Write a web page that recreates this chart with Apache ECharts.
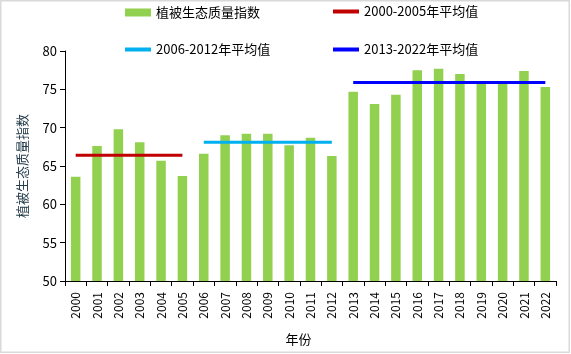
<!DOCTYPE html>
<html>
<head>
<meta charset="utf-8">
<script src="https://cdn.jsdelivr.net/npm/echarts@6/dist/echarts.min.js"></script>
<style>
  html, body { margin: 0; padding: 0; background: #fff; }
  #main { width: 571px; height: 354px; }
</style>
</head>
<body>
<div id="main"></div>
<script>
// data
var years = ['2000', '2001', '2002', '2003', '2004', '2005', '2006', '2007', '2008', '2009', '2010', '2011',
  '2012', '2013', '2014', '2015', '2016', '2017', '2018', '2019', '2020', '2021', '2022'];
var vegIndex = [63.6, 67.6, 69.8, 68.1, 65.7, 63.7, 66.6, 69.0, 69.2, 69.2, 67.7, 68.7,
  66.3, 74.7, 73.1, 74.3, 77.5, 77.7, 77.0, 76.0, 76.1, 77.4, 75.3];
var avg2000 = [66.4, 66.4, 66.4, 66.4, 66.4, 66.4];          // 2000-2005
var avg2006 = [68.1, 68.1, 68.1, 68.1, 68.1, 68.1, 68.1];    // 2006-2012
var avg2013 = [75.9, 75.9, 75.9, 75.9, 75.9, 75.9, 75.9, 75.9, 75.9, 75.9]; // 2013-2022
var yTicks = [50, 55, 60, 65, 70, 75, 80];

var font = '"Noto Sans CJK SC", "Noto Sans", sans-serif';

// put a segment onto the full category axis
function place(vals, start) {
  var out = [];
  for (var i = 0; i < years.length; i++) {
    var j = i - start;
    out.push(j >= 0 && j < vals.length ? vals[j] : null);
  }
  return out;
}

var names = ['植被生态质量指数', '2000-2005年平均值', '2006-2012年平均值', '2013-2022年平均值'];

function legendAt(name, left, top, isBar) {
  return {
    data: [name],
    left: left,
    top: top,
    itemWidth: 26,
    itemHeight: isBar ? 8 : 4,
    itemGap: 0,
    textStyle: { fontFamily: font, fontSize: 13, color: '#000' },
    icon: 'rect',
    selectedMode: false
  };
}

var myChart = echarts.init(document.getElementById('main'));

var option = {
  backgroundColor: '#fff',
  animation: false,
  graphic: [{
    type: 'rect',
    shape: { x: 0.75, y: 0.75, width: 568.5, height: 351.5 },
    style: { fill: 'none', stroke: '#d9d9d9', lineWidth: 1.5 },
    silent: true
  }],
  legend: [
    legendAt(names[0], 120, 1, true),
    legendAt(names[1], 328, 0, false),
    legendAt(names[2], 120, 38, false),
    legendAt(names[3], 328, 38, false)
  ],
  grid: { left: 65, right: 15, top: 51, bottom: 73 },
  xAxis: {
    type: 'category',
    data: years,
    name: '年份',
    nameLocation: 'middle',
    nameGap: 52,
    nameTextStyle: { fontFamily: font, fontSize: 13, color: '#000', padding: [0, 24, 0, 0] },
    axisLine: { lineStyle: { color: '#000', width: 1 } },
    axisTick: { show: true, length: 5, lineStyle: { color: '#000' } },
    axisLabel: { rotate: 90, fontFamily: font, fontSize: 12, color: '#000', margin: 11 }
  },
  yAxis: {
    type: 'value',
    min: yTicks[0],
    max: yTicks[yTicks.length - 1],
    interval: 5,
    name: '植被生态质量指数',
    nameLocation: 'middle',
    nameGap: 36,
    nameTextStyle: { fontFamily: font, fontSize: 13, color: '#243b4a' },
    axisLine: { show: true, lineStyle: { color: '#000', width: 1 } },
    axisTick: { show: true, length: 5, lineStyle: { color: '#000' } },
    axisLabel: { fontFamily: font, fontSize: 13, color: '#000', margin: 8 },
    splitLine: { show: false }
  },
  series: [
    {
      name: names[0],
      type: 'bar',
      data: vegIndex,
      barWidth: 9.5,
      itemStyle: { color: '#92d050' }
    },
    {
      name: names[1],
      type: 'line',
      data: place(avg2000, 0),
      symbol: 'none',
      lineStyle: { color: '#c00000', width: 3 },
      itemStyle: { color: '#c00000' }
    },
    {
      name: names[2],
      type: 'line',
      data: place(avg2006, 6),
      symbol: 'none',
      lineStyle: { color: '#00b0f0', width: 3 },
      itemStyle: { color: '#00b0f0' }
    },
    {
      name: names[3],
      type: 'line',
      data: place(avg2013, 13),
      symbol: 'none',
      lineStyle: { color: '#0000ff', width: 3 },
      itemStyle: { color: '#0000ff' }
    }
  ]
};

myChart.setOption(option);
</script>
</body>
</html>
